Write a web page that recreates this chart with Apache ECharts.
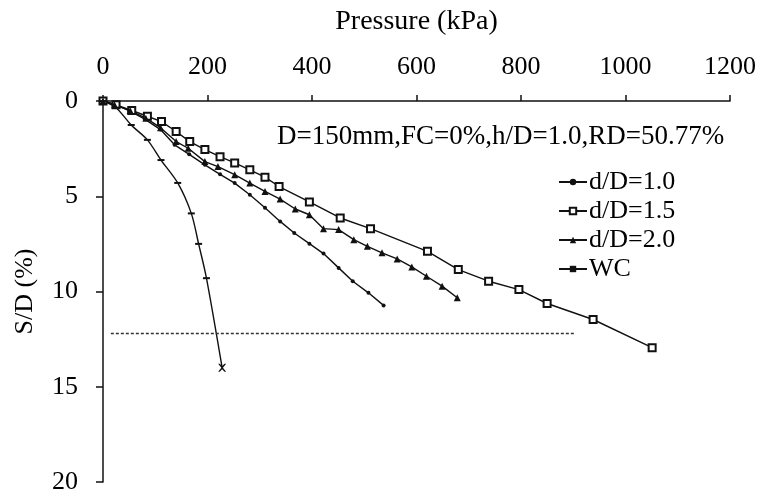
<!DOCTYPE html>
<html>
<head>
<meta charset="utf-8">
<script src="https://cdn.jsdelivr.net/npm/echarts@6/dist/echarts.min.js"></script>
<style>
html,body{margin:0;padding:0;background:#fff;}
#chart{width:759px;height:495px;}
</style>
</head>
<body>
<div id="chart"></div>
<script>
// ---- data ----
const xTicks = [0, 200, 400, 600, 800, 1000, 1200];
const yTicks = [0, 5, 10, 15, 20];

const p10 = [0, 20, 50, 80, 110, 137, 165, 195, 224, 252, 281, 310, 339, 366, 395, 422, 451, 478, 508, 537];
const s10 = [0, 0.15, 0.5, 0.95, 1.5, 2.3, 2.8, 3.35, 3.85, 4.31, 4.92, 5.6, 6.32, 6.93, 7.49, 8.01, 8.76, 9.46, 10.07, 10.73];

const p15 = [0, 25, 55, 85, 112, 140, 166, 195, 224, 252, 281, 310, 337, 395, 454, 512, 621, 680, 738, 796, 850, 938, 1051];
const s15 = [0, 0.2, 0.5, 0.8, 1.08, 1.6, 2.13, 2.55, 2.92, 3.25, 3.61, 4.0, 4.49, 5.30, 6.14, 6.70, 7.89, 8.85, 9.46, 9.90, 10.63, 11.47, 12.95];

const p20 = [0, 22, 52, 82, 110, 140, 163, 195, 220, 252, 281, 310, 339, 368, 395, 422, 451, 480, 506, 534, 563, 591, 619, 649, 678];
const s20 = [0, 0.2, 0.5, 0.9, 1.4, 2.13, 2.48, 3.18, 3.44, 3.87, 4.31, 4.75, 5.15, 5.67, 5.97, 6.70, 6.75, 7.28, 7.63, 7.97, 8.29, 8.71, 9.20, 9.72, 10.33];

const pWC = [0, 25, 54, 85, 111, 143, 169, 183, 198, 228];
const sWC = [0, 0.35, 1.26, 2.04, 3.1, 4.3, 5.9, 7.5, 9.3, 14.0];

const refP = [15, 905];
const refS = [12.2, 12.2];

const seriesNames = ['d/D=1.0', 'd/D=1.5', 'd/D=2.0', 'WC'];
const annotation = 'D=150mm,FC=0%,h/D=1.0,RD=50.77%';

// ---- build ----
const zip = (a, b) => a.map((v, i) => [v, b[i]]);
const FONT = '"Liberation Serif", "Times New Roman", serif';
const INK = '#111';

const baseLine = { color: INK, width: 1.4 };

const chart = echarts.init(document.getElementById('chart'), null, { renderer: 'canvas' });
chart.setOption({
  animation: false,
  backgroundColor: '#fff',
  grid: { left: 103, right: 27, top: 101, bottom: 12 },
  xAxis: {
    type: 'value', position: 'top', min: 0, max: 1200, interval: 200,
    name: 'Pressure (kPa)', nameLocation: 'middle', nameGap: 65,
    nameTextStyle: { fontFamily: FONT, fontSize: 28, color: '#000' },
    axisLine: { show: true, lineStyle: { color: INK, width: 1.5 } },
    axisTick: { show: true, inside: false, length: 6, lineStyle: { color: INK, width: 1.5 } },
    axisLabel: { fontFamily: FONT, fontSize: 26, color: '#000', margin: 21,
      formatter: v => xTicks.includes(v) ? String(v) : '' },
    splitLine: { show: false }
  },
  yAxis: {
    type: 'value', inverse: true, min: 0, max: 20, interval: 5,
    name: 'S/D (%)', nameLocation: 'middle', nameGap: 65,
    nameTextStyle: { fontFamily: FONT, fontSize: 26, color: '#000' },
    axisLine: { show: true, lineStyle: { color: INK, width: 1.5 } },
    axisTick: { show: true, inside: false, length: 7, lineStyle: { color: INK, width: 1.5 } },
    axisLabel: { fontFamily: FONT, fontSize: 26, color: '#000', margin: 25,
      formatter: v => yTicks.includes(v) ? String(v) : '' },
    splitLine: { show: false }
  },
  legend: {
    orient: 'vertical', left: 553, top: 164,
    itemWidth: 28, itemHeight: 8, itemGap: 3,
    data: seriesNames,
    textStyle: { fontFamily: FONT, fontSize: 26, color: '#000', padding: [0, 0, 0, -3] },
    inactiveColor: '#999'
  },
  graphic: [{
    type: 'text', left: 277, top: 123,
    style: { text: annotation, font: '27px ' + FONT, fill: '#000' }
  }],
  series: [
    {
      name: seriesNames[0], type: 'line', data: zip(p10, s10),
      symbol: 'circle', symbolSize: 4,
      lineStyle: baseLine, itemStyle: { color: INK }
    },
    {
      name: seriesNames[1], type: 'line', data: zip(p15, s15),
      symbol: 'emptyRect', symbolSize: 7,
      lineStyle: baseLine, itemStyle: { color: INK, borderWidth: 1.5 }
    },
    {
      name: seriesNames[2], type: 'line', data: zip(p20, s20),
      symbol: 'triangle', symbolSize: 7,
      lineStyle: baseLine, itemStyle: { color: INK }
    },
    {
      name: seriesNames[3], type: 'line', data: zip(pWC, sWC).map((d, i, arr) =>
        i === arr.length - 1 ? { value: d, symbol: 'path://M0,0L2,0L5,3L8,0L10,0L6,5L10,10L8,10L5,7L2,10L0,10L4,5Z', symbolSize: 8 } : d),
      symbol: 'rect', symbolSize: [7, 2], smooth: 0.3,
      lineStyle: baseLine, itemStyle: { color: INK }
    },
    {
      name: 'ref', type: 'line', data: zip(refP, refS),
      symbol: 'none', silent: true,
      lineStyle: { color: '#333', width: 1.5, type: [3, 2] }
    }
  ]
});
</script>
</body>
</html>
